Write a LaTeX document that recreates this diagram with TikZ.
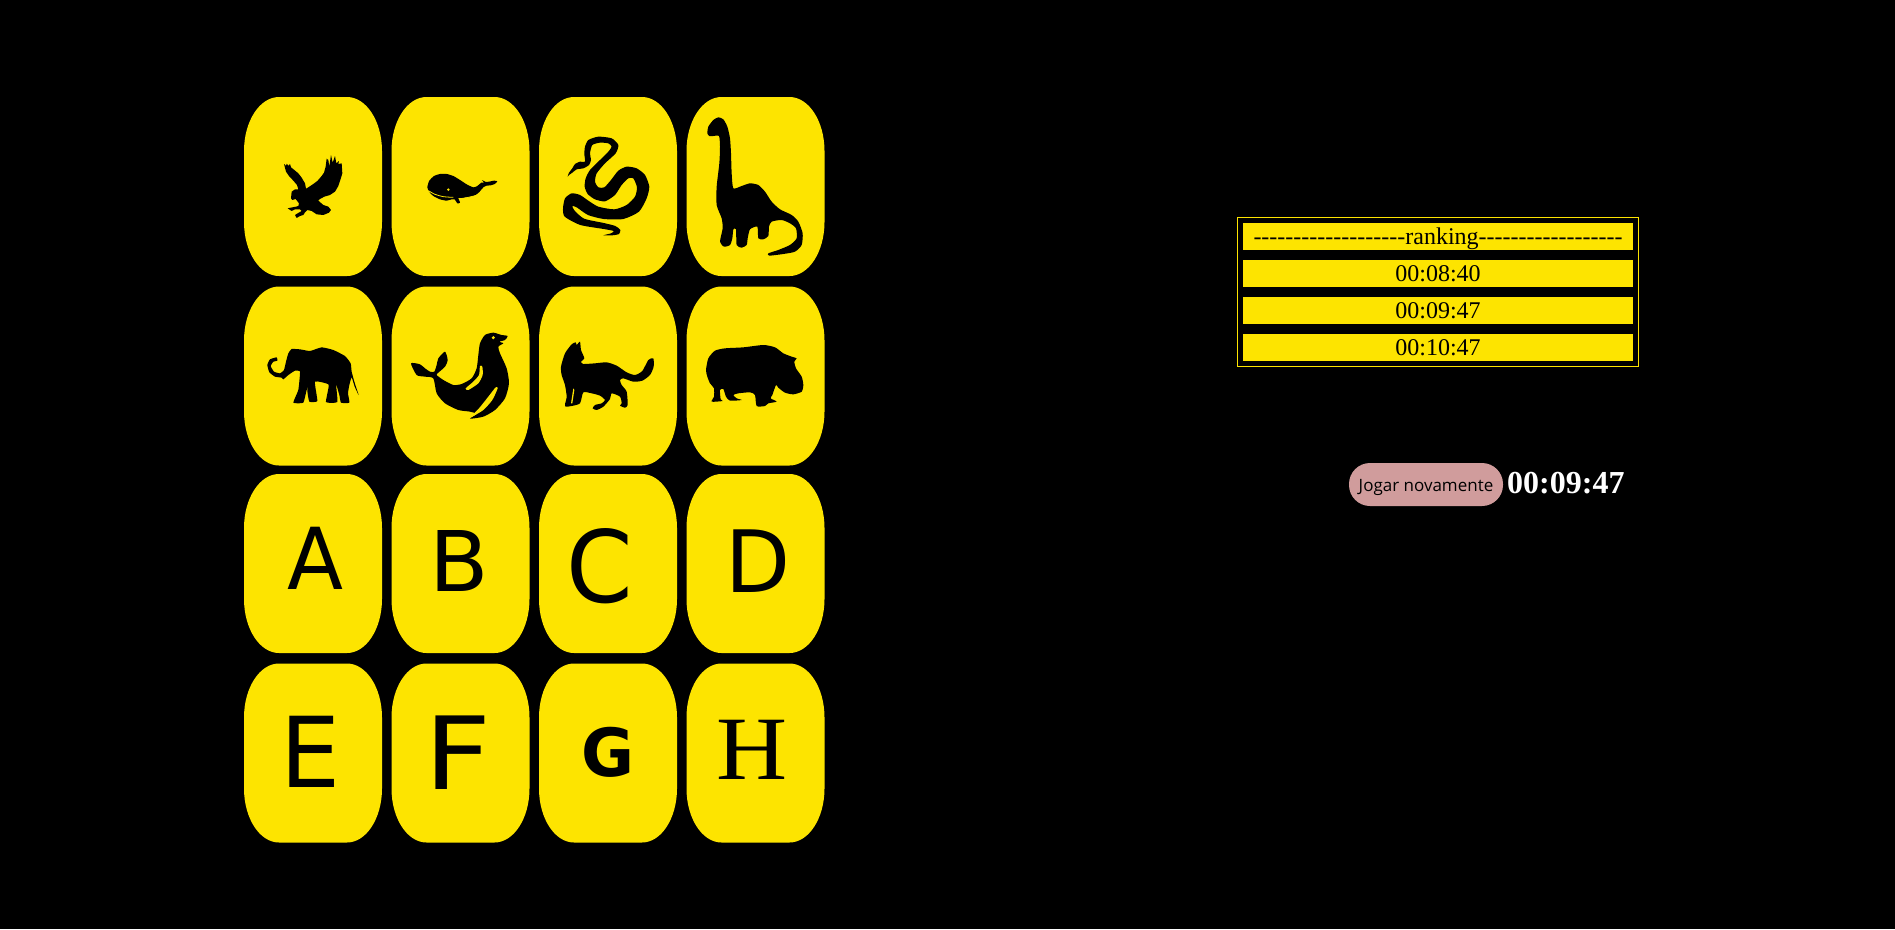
\documentclass[tikz,border=0pt]{standalone}
\usepackage{graphicx}
\usepackage{fontspec}
\newfontfamily\timesf{Liberation Serif}
\newfontfamily\dejaf{DejaVu Sans}
\newfontfamily\dejab{DejaVu Sans Bold}
\newfontfamily\btnf{Open Sans}
\definecolor{cardy}{HTML}{FDE400}
\definecolor{btnp}{HTML}{D09C9C}
\tikzset{
  x=1pt,y=-1pt,
  cardshape/.pic={\fill[cardy] (35,0) -- (103,0) .. controls (122.3,0) and (138,24.2) .. (138,54) -- (138,125) .. controls (138,154.8) and (122.3,179) .. (103,179) -- (35,179) .. controls (15.7,179) and (0,154.8) .. (0,125) -- (0,54) .. controls (0,24.2) and (15.7,0) .. (35,0) -- cycle;},
  letter/.style={inner sep=0pt,outer sep=0pt,text=black},
  rankbar/.style={fill=cardy,text=black,inner xsep=0pt,inner ysep=0pt,minimum width=390pt,minimum height=27pt,text height=21pt,text depth=6pt,font=\timesf\fontsize{24}{24}\selectfont},
  sil/.style={fill=black,draw=none},
  soft/.style={smooth cycle,tension=0.38},
  hole/.style={fill=cardy,draw=none}
}
\begin{document}
\begin{tikzpicture}
\useasboundingbox (0,0) rectangle (1895,929);
\fill[black] (0,0) rectangle (1895,929);
% cards
\foreach \cx in {244,391.5,539,686.5}{
  \foreach \cy in {97,286.5,474,663.5}{
    \pic at (\cx,\cy) {cardshape};
  }
}
% letters
\node[letter] (la) at (315.2,558) {\resizebox{56pt}{62.3pt}{\dejaf A}};
\node[letter] (lb) at (459,561) {\resizebox{59.5pt}{61pt}{\dejaf B}};
\node[letter] (lc) at (599.5,566) {\resizebox{66.5pt}{74pt}{\dejaf C}};
\node[letter] (ld) at (757.6,560.8) {\resizebox{65pt}{62.7pt}{\dejaf D}};
\node[letter] (le) at (311,751.5) {\resizebox{60pt}{71.3pt}{\dejaf E}};
\node[letter] (lf) at (458,753) {\resizebox{67pt}{73.6pt}{\dejaf F}};
\node[letter] (lg) at (608,752) {\resizebox{53pt}{49.3pt}{\dejab G}};
\node[letter] (lh) at (751.8,749.7) {\resizebox{71pt}{59.3pt}{\timesf H}};
% eagle
\fill[sil,shift={(275,150)},scale=0.3333] plot coordinates {(27,42)(33,48)(35,41)(40,47)(45,42)(48,52)(58,60)(70,70)(80,83)(90,100)(93,116)(100,112)(115,102)(128,92)(140,78)(147,68)(152,50)(155,26)(160,30)(163,50)(168,15)(173,38)(180,18)(184,40)(192,33)(190,42)(200,40)(202,70)(196,90)(190,108)(180,125)(165,135)(148,140)(135,147)(130,152)(145,165)(160,170)(168,180)(162,188)(145,195)(125,193)(110,183)(97,180)(90,187)(85,195)(75,198)(65,204)(60,195)(68,190)(80,183)(75,178)(60,178)(50,183)(38,175)(52,172)(63,170)(70,168)(72,160)(62,147)(52,150)(48,145)(50,125)(60,118)(70,118)(66,105)(55,92)(42,78)(33,65)} -- cycle;
% whale
\fill[sil,shift={(420,160)},scale=0.3333] plot[soft] coordinates {(22,82)(28,62)(42,48)(60,42)(80,42)(100,48)(120,60)(140,73)(160,82)(172,78)(184,68)(192,68)(186,60)(198,66)(212,64)(222,62)(232,64)(224,72)(212,76)(200,77)(190,82)(178,96)(165,106)(145,112)(122,114)(115,114)(120,128)(112,130)(104,118)(95,118)(80,122)(60,118)(40,108)(28,96)};
\draw[cardy,line width=0.8pt,shift={(420,160)},scale=0.3333] plot[smooth] coordinates {(25,92)(45,103)(70,110)(100,112)};
\draw[cardy,line width=0.8pt,shift={(420,160)},scale=0.3333] plot[smooth] coordinates {(122,116)(145,112)(170,106)};
\fill[hole,shift={(420,160)},scale=0.3333] (85,89) circle[radius=4];
% snake
\fill[sil,shift={(555,130)},scale=0.3333] plot[soft] coordinates {(88,72)(90,50)(100,30)(130,20)(170,25)(190,45)(182,70)(150,100)(125,130)(120,155)(130,172)(148,172)(168,150)(190,122)(215,110)(245,115)(270,135)(283,170)(275,205)(252,245)(205,267)(146,267)(99,255)(65,232)(52,228)(58,241)(87,266)(146,279)(181,288)(196,300)(192,312)(172,316)(145,316)(168,310)(176,303)(146,297)(76,285)(29,260)(24,235)(30,205)(50,190)(75,195)(100,212)(130,230)(178,238)(215,225)(240,200)(246,172)(235,145)(220,145)(200,165)(180,195)(150,214)(120,208)(98,192)(89,170)(92,145)(105,120)(135,90)(160,65)(170,50)(160,40)(135,38)(112,45)(105,70)(108,90)(102,105)(85,115)(65,118)(52,128)(42,135)(38,140)(42,128)(52,115)(60,102)(75,95)(90,95)};
% dinosaur
\fill[sil,shift={(700,110)},scale=0.3333] plot[soft] coordinates {(22,70)(25,50)(40,30)(55,22)(70,28)(82,50)(90,85)(93,130)(95,190)(100,235)(125,228)(150,220)(175,225)(195,245)(215,275)(240,298)(275,315)(295,335)(308,370)(305,405)(285,425)(250,432)(208,437)(205,430)(235,420)(270,405)(290,385)(288,355)(270,340)(245,330)(215,335)(207,350)(205,378)(190,388)(175,385)(172,350)(150,358)(143,385)(140,405)(125,413)(110,405)(108,358)(100,358)(97,385)(90,405)(72,410)(60,395)(68,355)(65,325)(50,285)(50,230)(58,160)(60,110)(57,78)(40,78)(28,78)};
% elephant
\fill[sil,shift={(260,340)},scale=0.3333] plot[smooth cycle,tension=0.25] coordinates {(85,40)(95,27)(120,28)(150,33)(185,22)(220,30)(255,48)(272,70)(275,95)(283,125)(296,165)(284,140)(275,112)(268,135)(264,160)(268,188)(243,188)(238,165)(228,132)(232,186)(198,186)(206,134)(165,125)(172,183)(148,185)(142,150)(155,120)(140,150)(130,188)(100,188)(115,150)(120,95)(105,92)(85,105)(70,118)(65,113)(45,110)(28,97)(22,75)(30,58)(50,52)(52,62)(40,65)(32,78)(42,95)(60,100)(72,90)(78,65)};
% seal
\fill[sil,shift={(405,330)},scale=0.3333] plot[soft] coordinates {(225,40)(240,15)(265,8)(290,15)(308,18)(300,30)(283,35)(295,40)(280,50)(285,70)(305,115)(312,160)(300,205)(270,240)(235,260)(195,266)(215,252)(195,245)(160,240)(120,220)(95,190)(85,145)(60,140)(35,135)(18,100)(45,103)(60,115)(75,125)(88,125)(95,105)(100,85)(120,65)(128,90)(120,110)(100,128)(95,135)(115,150)(145,165)(170,162)(200,145)(215,115)(220,75)};
\fill[hole,shift={(405,330)},scale=0.3333] plot[soft] coordinates {(272,172)(278,175)(262,210)(235,240)(205,258)(197,260)(222,235)(250,200)};
\fill[hole,shift={(405,330)},scale=0.3333] plot[soft] coordinates {(225,108)(232,110)(233,135)(220,160)(190,180)(182,175)(205,155)(222,135)};
\fill[hole,shift={(405,330)},scale=0.3333] (265,23) circle[radius=5];
% cat
\fill[sil,shift={(555,335)},scale=0.3333] plot[soft] coordinates {(18,95)(30,55)(50,28)(62,22)(65,30)(75,20)(78,45)(88,70)(78,80)(85,87)(120,85)(155,82)(185,92)(215,112)(240,120)(262,108)(280,75)(295,70)(296,95)(285,120)(262,137)(235,140)(205,130)(195,135)(200,150)(215,170)(218,210)(210,218)(195,212)(200,205)(195,185)(170,175)(165,192)(145,215)(125,225)(113,220)(120,210)(140,205)(150,195)(135,182)(110,175)(85,172)(75,205)(50,213)(32,215)(30,208)(35,185)(30,150)(20,120)};
\fill[hole,shift={(555,335)},scale=0.3333] (55,160) -- (58,165) -- (52,205) -- (48,205) -- cycle;
% hippo
\fill[sil,shift={(700,340)},scale=0.3333] plot[soft] coordinates {(18,90)(25,55)(45,32)(75,25)(130,22)(190,15)(225,22)(250,40)(275,50)(290,55)(283,65)(288,85)(305,110)(310,135)(305,155)(280,163)(255,158)(235,143)(228,135)(217,165)(212,175)(230,185)(205,190)(195,198)(170,198)(165,165)(150,157)(115,160)(100,165)(110,175)(125,180)(90,182)(78,170)(70,147)(60,150)(62,178)(68,183)(35,185)(42,170)(42,145)(30,130)(22,110)};
% ranking
\node[draw=cardy,line width=1pt,inner sep=0pt,minimum width=401.5pt,minimum height=149pt] (rankbox) at (1437.75,291.5) {};
\node[rankbar] (r0) at (1438,236.5) {-------------------ranking------------------};
\node[rankbar] (r1) at (1438,273.5) {00:08:40};
\node[rankbar] (r2) at (1438,310.5) {00:09:47};
\node[rankbar] (r3) at (1438,347.5) {00:10:47};
% button and timer
\node[fill=btnp,rounded corners=21pt,inner sep=0pt,minimum width=154pt,minimum height=43pt,text height=17pt,text depth=3pt,text=black,font=\btnf\fontsize{17}{17}\selectfont] (btn) at (1426,484.5) {Jogar novamente};
\node[anchor=base west,inner sep=0pt,text=white,font=\timesf\bfseries\fontsize{32}{32}\selectfont] (timer) at (1507,493) {00:09:47};
\end{tikzpicture}
\end{document}
